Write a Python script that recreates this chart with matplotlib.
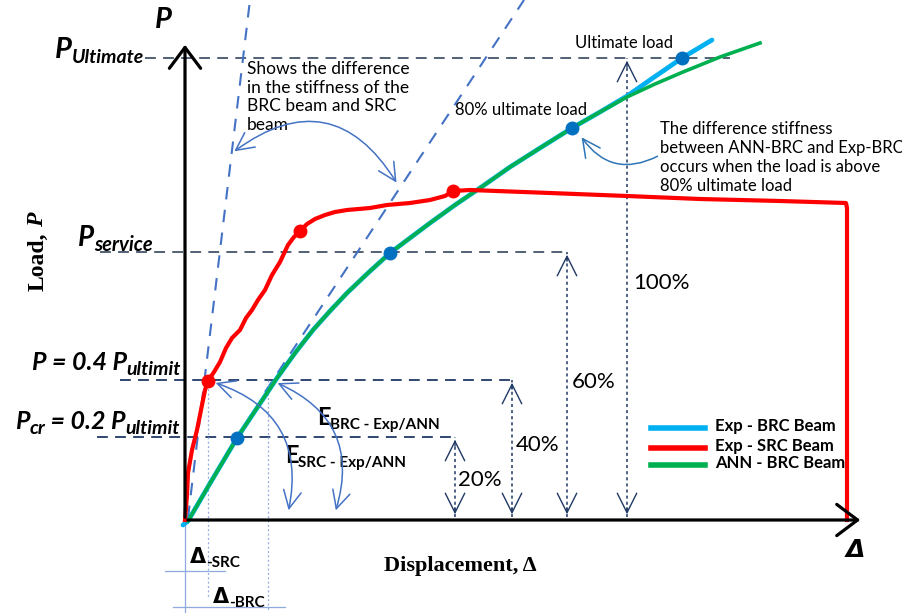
import matplotlib
matplotlib.use("Agg")
import matplotlib.pyplot as plt
from matplotlib.patches import FancyArrowPatch

plt.rcParams['font.family'] = ['Lato', 'DejaVu Sans']

# === Schematic data (displacement, load) in drawing units, origin at axes corner ===
ann_disp = [3, 27, 52, 72, 92, 110, 128, 145, 162, 183, 205, 225, 245, 270, 295, 325,
            355, 387, 415, 442, 470, 498, 535, 575]
ann_load = [-1, 40, 82, 112, 142, 167, 190, 209, 227, 247, 267, 282, 297, 315, 332, 353,
            372, 392, 408, 423, 436, 448, 463, 477]

brc_disp = [-2, 3, 27, 52, 72, 92, 110, 128, 145, 162, 183, 205, 225, 245, 270, 295, 325,
            355, 387, 415, 442, 465, 497, 527]
brc_load = [-5, -1, 40, 82, 112, 142, 167, 190, 209, 227, 247, 267, 282, 297, 315, 332, 353,
            372, 392, 408, 424, 440, 462, 480]

src_disp = [0, 2, 3, 7, 12, 17, 20, 23, 29, 35, 41, 47, 55, 61, 67, 73, 80, 87, 95, 103, 109,
            115, 122, 130, 140, 150, 162, 185, 202, 225, 245, 260, 268, 285, 365, 442, 515, 595,
            661, 662, 662]
src_load = [0, 25, 47, 70, 90, 115, 130, 139, 148, 158, 172, 182, 190, 202, 210, 220, 230, 245,
            258, 275, 283, 289, 296, 301, 305, 308, 310, 312, 315, 317, 320, 324, 329, 330, 327,
            324, 321, 319, 317, 312, 0]

brc_mark_disp = [52, 205, 387, 497]
brc_mark_load = [82, 267, 392, 462]
src_mark_disp = [23, 115, 268]
src_mark_load = [139, 289, 329]

# load levels: ultimate, service, 0.4 Pu, 0.2 Pu
level_load = [462, 268, 140, 83]
level_start = [-40, -85, -65, -88]
level_end = [545, 382, 327, 270]

# percentage arrows
pct_disp = [270, 327, 382, 442]
pct_top = [83, 140, 268, 462]
pct_labels = ["20%", "40%", "60%", "100%"]
pct_text_xy = [(273, 40), (331, 75), (387, 138), (448, 237)]

# stiffness (secant) lines
src_stiff_disp = [3, 65]
src_stiff_load = [2, 520]
brc_stiff_disp = [80, 339]
brc_stiff_load = [128, 520]

RED = "#FF0000"
LBLUE = "#00B0F0"
GREEN = "#00B050"
MARK = "#0070C0"
NAVY = "#1F3864"
SLATE = "#44546A"
STIFF = "#4472C4"

fig = plt.figure(figsize=(9.03, 6.16), dpi=100)
ax = fig.add_axes([0, 0, 1, 1])
ax.set_xlim(-185, 718)
ax.set_ylim(-96, 520)
ax.axis('off')
renderer = fig.canvas.get_renderer()


def chain_text(x, y, parts, ha='left'):
    # parts: (text, fontsize, dy, extra kwargs) placed one after the other
    seq = parts if ha == 'left' else parts[::-1]
    cur = x
    for s, fs, dy, kw in seq:
        t = ax.text(cur, y + dy, s, fontsize=fs, ha=ha, va='baseline', **kw)
        bb = t.get_window_extent(renderer).transformed(ax.transData.inverted())
        w = bb.x1 - bb.x0
        cur = cur + w if ha == 'left' else cur - w


BI = dict(fontweight='bold', style='italic')
B = dict(fontweight='bold')

# === Guide lines for the load levels
for y, x0, x1 in zip(level_load, level_start, level_end):
    c = SLATE if y > 200 else NAVY
    ax.plot([x0, x1], [y, y], color=c, lw=1.3, ls=(0, (6, 4)), zorder=1)

chain_text(-41, 462, [("P", 21, 0, BI), ("Ultimate", 14, -5, BI)], ha='right')
chain_text(-32, 274, [("P", 20, 0, BI), ("service", 14.5, -5, BI)], ha='right')
chain_text(-4, 150, [("P = 0.4 P", 18, 0, BI), ("ultimit", 14, -5, BI)], ha='right')
chain_text(-5, 91, [("P", 18, 0, BI), ("cr", 14, -5, BI), (" = 0.2 P", 18, 0, BI),
                    ("ultimit", 14, -5, BI)], ha='right')

# === Percentage double arrows
for x, top in zip(pct_disp, pct_top):
    ax.plot([x, x], [3, top], color=NAVY, lw=1.1, ls=(0, (2, 2)), zorder=1)
    for a, b in [(top - 12, top), (15, 3)]:
        ax.add_patch(FancyArrowPatch((x, a), (x, b), arrowstyle='->,head_length=0.7,head_width=0.35',
                                     mutation_scale=20, color=NAVY, lw=1.0))
for lab, (x, y) in zip(pct_labels, pct_text_xy):
    ax.text(x, y, lab, fontsize=16, ha='left', va='center')

# === Stiffness lines
ax.plot(src_stiff_disp, src_stiff_load, color=STIFF, lw=1.5, ls=(0, (6, 5)), zorder=1)
ax.plot(brc_stiff_disp, brc_stiff_load, color=STIFF, lw=1.5, ls=(0, (6, 5)), zorder=1)

# === Displacement markers below the axis
ax.plot([23, 23], [140, -78], color="#8FAADC", lw=0.9, ls=(0, (1.5, 2)), zorder=1)
ax.plot([83, 83], [140, -92], color="#8FAADC", lw=0.9, ls=(0, (1.5, 2)), zorder=1)
ax.plot([0, 0], [-5, -92], color="#8FAADC", lw=0.9)
ax.plot([-20, 40], [-51, -51], color="#8FAADC", lw=0.9)
ax.plot([-12, 100], [-87, -87], color="#8FAADC", lw=0.9)
chain_text(5, -43, [("Δ", 15, 0, dict(fontweight='bold', family='DejaVu Sans')),
                    ("-SRC", 11, -4, B)])
chain_text(28, -83, [("Δ", 15, 0, dict(fontweight='bold', family='DejaVu Sans')),
                     ("-BRC", 11, -4, B)])

# === Curves
ax.plot(brc_disp, brc_load, color=LBLUE, lw=3.4, solid_capstyle='round', zorder=3)
ax.plot(ann_disp, ann_load, color=GREEN, lw=2.6, zorder=4)
ax.plot(src_disp, src_load, color=RED, lw=3.0, solid_joinstyle='round', zorder=4)
ax.plot(brc_mark_disp, brc_mark_load, 'o', color=MARK, ms=9, zorder=5)
ax.plot(src_mark_disp, src_mark_load, 'o', color=RED, ms=9, zorder=5)

# === Axes arrows
ax.add_patch(FancyArrowPatch((0, 0), (0, 478), arrowstyle='->,head_length=0.6,head_width=0.45',
                             mutation_scale=25, color='black', lw=2.3, zorder=6))
ax.add_patch(FancyArrowPatch((0, 0), (678, 0), arrowstyle='->,head_length=0.6,head_width=0.45',
                             mutation_scale=25, color='black', lw=2.3, zorder=6))
ax.text(-22, 500, "P", fontsize=21, ha='center', va='center', **BI)
ax.text(670, -30, "Δ", fontsize=18, family='DejaVu Sans', ha='center', va='center', **BI)
ax.text(275, -46, "Displacement, Δ", fontsize=16, fontweight='bold', family='Liberation Serif',
        ha='center', va='center')
ax.text(-147, 258, "Load,", fontsize=17, fontweight='bold', family='Liberation Serif',
        rotation=90, ha='center', va='center')
ax.text(-147, 300, "P", fontsize=17, fontweight='bold', style='italic', family='Liberation Serif',
        rotation=90, ha='center', va='center')

# === Annotations
ax.text(390, 477, "Ultimate load", fontsize=12, ha='left', va='center')
ax.text(270, 410, "80% ultimate load", fontsize=12, ha='left', va='center')
ax.text(62, 459, "Shows the difference\nin the stiffness of the\nBRC beam and SRC\nbeam",
        fontsize=12.5, ha='left', va='top', linespacing=1.2)
ax.text(475, 399, "The difference stiffness\nbetween ANN-BRC and Exp-BRC\noccurs when the load is above\n80% ultimate load",
        fontsize=12, ha='left', va='top', linespacing=1.22)
chain_text(132, 95, [("E", 17, 0, B), ("BRC - Exp/ANN", 11, -4, B)])
chain_text(100, 57, [("E", 17, 0, B), ("SRC - Exp/ANN", 11, -4, B)])

arcs = [((47, 367), (213, 335), -0.55, '<->'),
        ((28, 138), (103, 7), -0.45, '<->'),
        ((90, 138), (150, 7), -0.45, '<->'),
        ((475, 365), (395, 385), -0.45, '->')]
for a, b, rad, style in arcs:
    ax.add_patch(FancyArrowPatch(a, b, connectionstyle=f"arc3,rad={rad}",
                                 arrowstyle=style + ',head_length=0.8,head_width=0.4',
                                 mutation_scale=16, color=STIFF if style == '<->' else "#2E75B6",
                                 lw=1.1, zorder=6))

# === Legend
leg_names = ["Exp - BRC Beam", "Exp - SRC Beam", "ANN - BRC Beam"]
leg_colors = [LBLUE, RED, GREEN]
leg_load = [92, 72, 55]
for name, c, y in zip(leg_names, leg_colors, leg_load):
    ax.plot([466, 520], [y, y], color=c, lw=4)
    ax.text(530, y + 2, name, fontsize=12, fontweight='bold', ha='left', va='center')

plt.savefig("out.png", dpi=100)
